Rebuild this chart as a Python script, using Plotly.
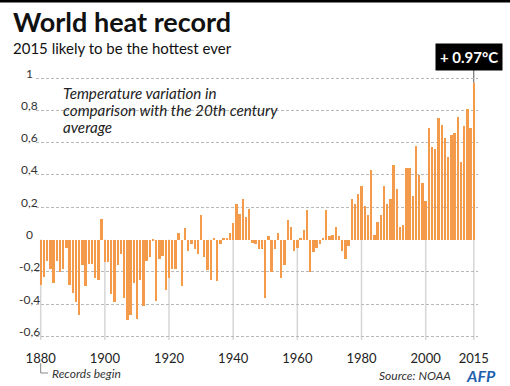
import plotly.graph_objects as go

# ---------------- data ----------------
years = list(range(1880, 2016))
anomaly = [
    -0.28, -0.23, -0.13, -0.18, -0.27, -0.13, -0.20, -0.18, -0.05, -0.28,   # 1880-1889
    -0.33, -0.39, -0.47, -0.16, -0.29, -0.15, -0.15, -0.24, -0.25, 0.125,   # 1890-1899
    -0.14, -0.14, -0.34, -0.39, -0.16, -0.09, -0.36, -0.50, -0.47, -0.27,   # 1900-1909
    -0.49, -0.25, -0.41, -0.13, -0.11, -0.01, -0.38, -0.12, -0.10, -0.31,   # 1910-1919
    -0.24, -0.18, -0.18, 0.04, -0.29, 0.07, -0.07, -0.03, -0.06, -0.09,     # 1920-1929
    0.15, -0.11, -0.19, -0.25, 0.01, -0.26, -0.03, 0.01, 0.01, 0.04,        # 1930-1939
    0.10, 0.22, 0.16, 0.25, 0.14, 0.19, -0.02, -0.03, -0.06, -0.06,         # 1940-1949
    -0.36, 0.02, -0.20, -0.06, 0.04, -0.24, -0.16, 0.12, 0.08, -0.07,       # 1950-1959
    -0.05, 0.01, 0.06, 0.18, -0.20, -0.08, -0.05, -0.03, 0.01, 0.18,        # 1960-1969
    0.02, 0.03, 0.08, 0.02, -0.07, -0.12, -0.04, 0.25, 0.22, 0.28,          # 1970-1979
    0.33, 0.21, 0.15, 0.43, 0.03, 0.11, 0.15, 0.33, 0.22, 0.25,             # 1980-1989
    0.46, 0.31, 0.08, 0.09, 0.44, 0.44, 0.27, 0.58, 0.40, 0.35,             # 1990-1999
    0.24, 0.69, 0.57, 0.56, 0.75, 0.71, 0.63, 0.51, 0.65, 0.66,             # 2000-2009
    0.76, 0.48, 0.70, 0.81, 0.69, 0.97,                                     # 2010-2015
]
ytick_vals = [-0.6, -0.4, -0.2, 0, 0.2, 0.4, 0.6, 0.8, 1]
xtick_years = [1880, 1900, 1920, 1940, 1960, 1980, 2000, 2015]
record_year = 2015
record_value = 0.97

# ---------------- layout geometry (pixels) ----------------
W, H = 510, 386
L, R, T, B = 36, 478, 68, 340
ZERO_PX = 239.5
PX_PER_UNIT = 161.5
PX_PER_YEAR = 3.208
YEAR0_PX = 40.7

y_top = (ZERO_PX - T) / PX_PER_UNIT
y_bot = -(B - ZERO_PX) / PX_PER_UNIT
x_lo = 1880 - (YEAR0_PX - L) / PX_PER_YEAR
x_hi = x_lo + (R - L) / PX_PER_YEAR


def px(x):
    return (x - L) / (R - L)


def py(y):
    return (B - y) / (B - T)


FONT = "Lato"
BAR = "#f39a4b"
GRID = "#b8b8b8"
VLINE = "#d6d6d6"

fig = go.Figure()
fig.add_trace(go.Bar(
    x=years, y=anomaly, width=0.74,
    marker=dict(color=BAR, line=dict(width=0)),
    hoverinfo="x+y",
))

shapes = []
# vertical reference lines below zero at tick years
for yr in xtick_years:
    shapes.append(dict(type="line", xref="x", yref="y", x0=yr, x1=yr,
                       y0=0, y1=y_bot, layer="below",
                       line=dict(color=VLINE, width=1.5)))
# leader line from record bar up to label
shapes.append(dict(type="line", xref="x", yref="y", x0=record_year, x1=record_year,
                   y0=record_value, y1=y_top + 0.05, layer="below",
                   line=dict(color="#555555", width=1)))
# "records begin" bracket
shapes.append(dict(type="path", xref="paper", yref="paper",
                   path=f"M {px(YEAR0_PX)} {py(363)} L {px(YEAR0_PX)} {py(373)} L {px(48)} {py(373)}",
                   line=dict(color="#888888", width=1)))
# top black rule
shapes.append(dict(type="rect", xref="paper", yref="paper",
                   x0=px(0), x1=px(W), y0=py(0), y1=py(2.5),
                   fillcolor="black", line=dict(width=0)))

annotations = []
# y tick labels
for v in ytick_vals:
    txt = f"{v:g}".replace(".", ",")
    annotations.append(dict(xref="paper", yref="y", x=px(29.5), y=v, yshift=5,
                            text=txt, showarrow=False, xanchor="center", yanchor="middle",
                            font=dict(family=FONT, size=12, color="#333333")))

NOTE = dict(family=FONT, size=15.2, color="#222222")
annotations += [
    dict(xref="paper", yref="paper", x=px(11), y=py(22), text="<b>World heat record</b>",
         showarrow=False, xanchor="left", yanchor="middle",
         font=dict(family=FONT, size=27, color="#111111")),
    dict(xref="paper", yref="paper", x=px(11), y=py(48), text="2015 likely to be the hottest ever",
         showarrow=False, xanchor="left", yanchor="middle",
         font=dict(family=FONT, size=15, color="#111111")),
    dict(xref="paper", yref="paper", x=px(61), y=py(93), text="<i>Temperature variation in</i>",
         showarrow=False, xanchor="left", yanchor="middle", font=NOTE),
    dict(xref="paper", yref="paper", x=px(61), y=py(110), text="<i>comparison with the 20th century</i>",
         showarrow=False, xanchor="left", yanchor="middle", font=NOTE),
    dict(xref="paper", yref="paper", x=px(61), y=py(127), text="<i>average</i>",
         showarrow=False, xanchor="left", yanchor="middle", font=NOTE),
    dict(xref="paper", yref="paper", x=px(50), y=py(373), text="<i>Records begin</i>",
         showarrow=False, xanchor="left", yanchor="middle",
         font=dict(family=FONT, size=12, color="#333333")),
    dict(xref="paper", yref="paper", x=px(453), y=py(375), text="<i>Source: NOAA</i>",
         showarrow=False, xanchor="right", yanchor="middle",
         font=dict(family=FONT, size=12, color="#333333")),
    dict(xref="paper", yref="paper", x=px(481), y=py(375), text="<b><i>AFP</i></b>",
         showarrow=False, xanchor="center", yanchor="middle",
         font=dict(family=FONT, size=16, color="#1f5fae")),
    dict(xref="paper", yref="paper", x=px(469), y=py(56.5),
         text=f"<b>+ {record_value:.2f}°C</b>",
         showarrow=False, xanchor="center", yanchor="middle",
         bgcolor="black", borderpad=4,
         font=dict(family=FONT, size=15, color="white")),
]

fig.update_layout(
    width=W, height=H,
    margin=dict(l=L, r=W - R, t=T, b=H - B, pad=0),
    paper_bgcolor="white", plot_bgcolor="white",
    showlegend=False,
    bargap=0,
    shapes=shapes,
    annotations=annotations,
    xaxis=dict(range=[x_lo, x_hi], tickmode="array", tickvals=xtick_years,
               ticktext=[str(y) for y in xtick_years], showgrid=False, zeroline=False,
               showline=False, ticks="", ticklabelstandoff=9,
               tickfont=dict(family=FONT, size=13, color="#222222")),
    yaxis=dict(range=[y_bot, y_top], tickmode="array",
               tickvals=[v for v in ytick_vals if v != 0],
               showticklabels=False, showgrid=True, gridcolor=GRID, gridwidth=1,
               griddash="3px,2px", zeroline=False, showline=False, ticks=""),
)

fig.write_html("out.html", config={"displayModeBar": False},
               post_script="document.body.style.margin='0';document.body.style.overflow='hidden';")
